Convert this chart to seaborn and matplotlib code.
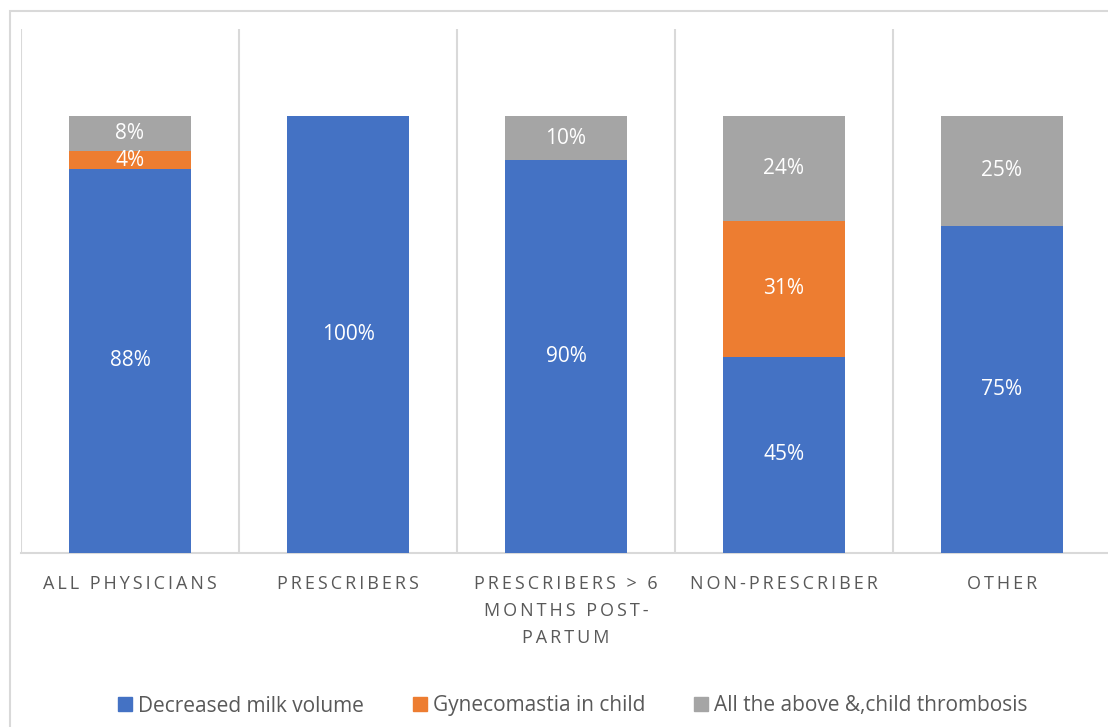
import matplotlib
matplotlib.use("Agg")
import matplotlib.pyplot as plt
import matplotlib.patches as mpatches
import numpy as np
import pandas as pd
import seaborn as sns

categories = ["ALL PHYSICIANS", "PRESCRIBERS", "PRESCRIBERS > 6\nMONTHS POST-\nPARTUM",
              "NON-PRESCRIBER", "OTHER"]
decreased_milk = [88, 100, 90, 45, 75]
gynecomastia = [4, 0, 0, 31, 0]
all_above = [8, 0, 10, 24, 25]
series_names = ["Decreased milk volume", "Gynecomastia in child", "All the above &,child thrombosis"]
colors = ["#4472C4", "#ED7D31", "#A5A5A5"]

sns.set_theme(style="white")
plt.rcParams["font.family"] = ["Open Sans", "DejaVu Sans"]

fig = plt.figure(figsize=(11.08, 7.27), dpi=100)
ax = fig.add_axes([21 / 1108, 1 - 553 / 727, 1090 / 1108, (553 - 29) / 727])

# outer chart border
fig.patches.append(mpatches.Rectangle((10 / 1108, -0.1), 1.2, 1 - 11 / 727 + 0.1,
                                      transform=fig.transFigure, fill=False,
                                      edgecolor="#D9D9D9", linewidth=1.5, zorder=0))

df = pd.DataFrame({"cat": categories, "a": decreased_milk, "b": gynecomastia, "c": all_above})
bottom = np.zeros(len(categories))
series = [df["a"].values, df["b"].values, df["c"].values]
for vals, col in zip(series, colors):
    sns.barplot(x=df["cat"], y=vals, bottom=bottom, color=col, width=0.56,
                saturation=1, ax=ax, order=categories, linewidth=0, zorder=3)
    for i, v in enumerate(vals):
        if v > 0:
            ax.text(i, bottom[i] + v / 2, f"{v}%", ha="center", va="center",
                    color="white", fontsize=15, zorder=4)
    bottom = bottom + vals

ax.set_ylim(0, 120)
ax.set_xlim(-0.5, 4.5)
ax.set_yticks([])
ax.set_xlabel("")
ax.set_ylabel("")

# category separators
for b in np.arange(-0.5, 5.0, 1.0):
    ax.axvline(b, color="#D9D9D9", linewidth=1.5, zorder=1)

for s in ["top", "right", "left"]:
    ax.spines[s].set_visible(False)
ax.spines["bottom"].set_color("#D9D9D9")
ax.spines["bottom"].set_linewidth(1.5)

sp = "\u2009"
def spaced(t):
    return "\n".join(sp.join(list(line)) for line in t.split("\n"))

ax.set_xticks(range(len(categories)))
ax.set_xticklabels([spaced(c) for c in categories], color="#595959", fontsize=13,
                   linespacing=1.65)
ax.tick_params(axis="x", length=0, pad=16)

handles = [mpatches.Patch(color=c, label=n) for c, n in zip(colors, series_names)]
fig.legend(handles=handles, loc="center", bbox_to_anchor=(573 / 1108, 1 - 706 / 727),
           ncol=3, frameon=False, fontsize=15, labelcolor="#595959",
           handlelength=0.65, handleheight=0.65, handletextpad=0.3, columnspacing=2.35)

fig.savefig("out.png", dpi=100)
